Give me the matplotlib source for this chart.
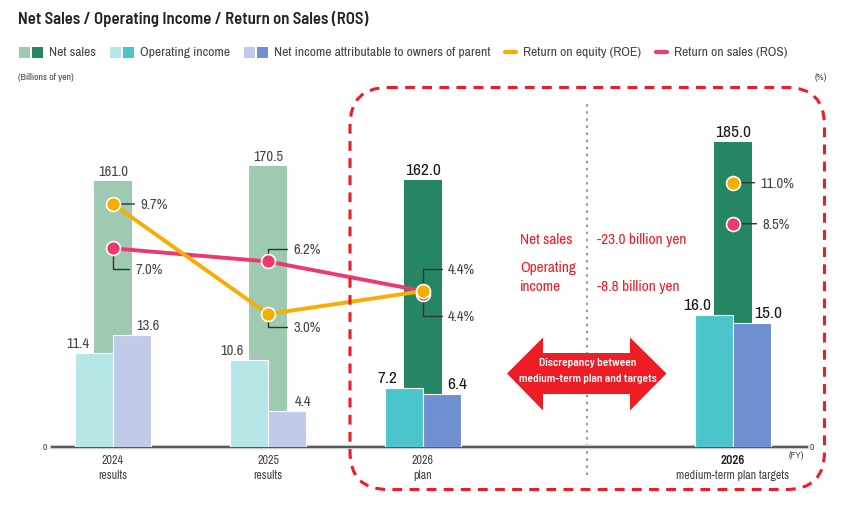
import matplotlib
matplotlib.use("Agg")
import matplotlib.pyplot as plt
import numpy as np
from matplotlib.patches import FancyBboxPatch, Polygon, Rectangle
from matplotlib.transforms import offset_copy

# ---- data -------------------------------------------------------------
years = ["2024", "2025", "2026", "2026"]
subs = ["results", "results", "plan", "medium-term plan targets"]
net_sales = [161.0, 170.5, 162.0, 185.0]
op_income = [11.4, 10.6, 7.2, 16.0]
net_income = [13.6, 4.4, 6.4, 15.0]
roe = [9.7, 3.0, 4.4]          # 2024, 2025 results + 2026 plan
ros = [7.0, 6.2, 4.4]
roe_target = 11.0
ros_target = 8.5
gap_sales = "-23.0 billion yen"
gap_income = "-8.8 billion yen"

# ---- colours ----------------------------------------------------------
NS_LIGHT, NS_DARK = "#9dcab0", "#258663"
OI_LIGHT, OI_DARK = "#b6e6e6", "#4cc4cc"
NI_LIGHT, NI_DARK = "#c0cbea", "#6f8fd0"
ROE_C, ROS_C = "#f7ae00", "#ec3a6e"
RED = "#ee1c25"
TXT = "#444444"

plt.rcParams["font.family"] = ["Archivo Narrow", "Roboto", "DejaVu Sans"]
BOLD_FAM = ["Barlow Semi Condensed", "Roboto", "DejaVu Sans"]

W, H = 850, 510
fig = plt.figure(figsize=(W / 100, H / 100), dpi=100)

# plot area in pixels: x 52..807, y 100..448
L, R, T, B = 52, 807, 100, 448
rect = [L / W, (H - B) / H, (R - L) / W, (B - T) / H]
ax_ns = fig.add_axes(rect)
ax_inc = ax_ns.twinx()
ax_pct = ax_ns.twinx()
ax_inc.set_zorder(ax_ns.get_zorder() + 1)
ax_pct.set_zorder(ax_ns.get_zorder() + 2)

x = np.array([0, 1, 2, 4])
span = B - T
ax_ns.set_xlim(-(113 - L) / 155, (R - 113) / 155)
ax_ns.set_ylim(0, span / 1.65)
ax_inc.set_ylim(0, span / 8.25)
ax_pct.set_ylim(-(B - 364.3) / 16.42, (364.3 - T) / 16.42)

for a in (ax_ns, ax_inc, ax_pct):
    a.patch.set_visible(False)
    for s in a.spines.values():
        s.set_visible(False)
    a.set_xticks([])
    a.set_yticks([])

bw = 0.24
ns_cols = [NS_LIGHT, NS_LIGHT, NS_DARK, NS_DARK]
oi_cols = [OI_LIGHT, OI_LIGHT, OI_DARK, OI_DARK]
ni_cols = [NI_LIGHT, NI_LIGHT, NI_DARK, NI_DARK]
ax_ns.bar(x, net_sales, width=bw, color=ns_cols)
ax_inc.bar(x - 0.123, op_income, width=bw, color=oi_cols, edgecolor="white", linewidth=0.8)
ax_inc.bar(x + 0.123, net_income, width=bw, color=ni_cols, edgecolor="white", linewidth=0.8)

# value labels
big = [False, False, True, True]
for i in range(4):
    fs = 12.5 if big[i] else 10.5
    c = "#1a1a1a" if big[i] else TXT
    ax_ns.annotate(f"{net_sales[i]:.1f}", (x[i], net_sales[i]), xytext=(0, 3),
                   textcoords="offset pixels", ha="center", va="bottom", fontsize=fs, color=c)
    ax_inc.annotate(f"{op_income[i]:.1f}", (x[i] - 0.123 - bw / 2, op_income[i]), xytext=(2, 3),
                    textcoords="offset pixels", ha="center", va="bottom", fontsize=fs, color=c)
    ax_inc.annotate(f"{net_income[i]:.1f}", (x[i] + 0.123 + bw / 2, net_income[i]), xytext=(-3, 3),
                    textcoords="offset pixels", ha="center", va="bottom", fontsize=fs, color=c)

# ROE / ROS lines
ax_pct.plot(x[:3], ros, color=ROS_C, lw=2.8, zorder=3)
ax_pct.plot(x[:3], roe, color=ROE_C, lw=2.8, zorder=3)
mk = dict(marker="o", ms=10, mec="white", mew=1.2, ls="none", zorder=6)
ax_pct.plot(x[:2], ros[:2], mfc=ROS_C, **mk)
# the plan ROS dot peeks out just below the ROE dot
ax_pct.plot(x[2:3], ros[2:3], mfc=ROS_C,
            transform=offset_copy(ax_pct.transData, fig=fig, y=-3, units="dots"), **mk)
ax_pct.plot(x[:3], roe, mfc=ROE_C, **mk)
ax_pct.plot([x[3]], [roe_target], mfc=ROE_C, **mk)
ax_pct.plot([x[3]], [ros_target], mfc=ROS_C, **mk)


def pct_label(xv, yv, dx, dy):
    lead = dict(arrowstyle="-", color="#333333", lw=1, shrinkA=2, shrinkB=0,
                relpos=(0, 0.5))
    if dy:
        lead["connectionstyle"] = "angle,angleA=0,angleB=90,rad=0"
    ax_pct.annotate(f"{yv:.1f}%", (xv, yv), xytext=(dx, dy), textcoords="offset pixels",
                    ha="left", va="center", fontsize=10.5, color=TXT, arrowprops=lead, zorder=4)


pct_label(x[0], roe[0], 27, 0)
pct_label(x[0], ros[0], 22, -21)
pct_label(x[1], ros[1], 25, 12)
pct_label(x[1], roe[1], 25, -13)
pct_label(x[2], roe[2], 25, 22)
pct_label(x[2], ros[2], 25, -25)
pct_label(x[3], roe_target, 27, 0)
pct_label(x[3], ros_target, 29, 0)

# baseline, axis labels
ax_ns.axhline(0, color="#cccccc", lw=3.2, zorder=4, clip_on=False)
ax_ns.axhline(0, color="#555555", lw=1.4, zorder=5, clip_on=False)
ax_ns.axvline(3.055, ymin=-0.08, ymax=(B - 103) / span, color="#999999", lw=1.5,
              ls=(0, (1.2, 2.2)), clip_on=False, zorder=0)
xt = ax_ns.get_xaxis_transform()
for i in range(4):
    last = i == 3
    ax_ns.annotate(years[i], (x[i], 0), xycoords=xt, xytext=(0, -13), textcoords="offset pixels",
                   ha="center", va="center", fontsize=9 if last else 8.6,
                   color="#222222" if last else TXT,
                   family=BOLD_FAM if last else None, fontweight="semibold" if last else "normal")
    ax_ns.annotate(subs[i], (x[i], 0), xycoords=xt, xytext=(0, -28), textcoords="offset pixels",
                   ha="center", va="center", fontsize=8.6, color=TXT)

# ---- overlay for decorations -----------------------------------------
ov = fig.add_axes([0, 0, 1, 1], zorder=10)
ov.set_xlim(0, W)
ov.set_ylim(H, 0)
ov.axis("off")

ov.text(18, 19, "Net Sales / Operating Income / Return on Sales (ROS)", fontsize=12,
        family=BOLD_FAM, fontweight="semibold", color="#222222", va="center", ha="left")

# legend, laid out left to right by measured text widths
renderer = fig.canvas.get_renderer()
leg_y = 53
leg_items = [("pair", (NS_LIGHT, NS_DARK), "Net sales"),
             ("pair", (OI_LIGHT, OI_DARK), "Operating income"),
             ("pair", (NI_LIGHT, NI_DARK), "Net income attributable to owners of parent"),
             ("line", ROE_C, "Return on equity (ROE)"),
             ("line", ROS_C, "Return on sales (ROS)")]
cx = 19
for kind, col, label in leg_items:
    if kind == "pair":
        ov.add_patch(Rectangle((cx, leg_y - 5.5), 11, 11, color=col[0], lw=0))
        ov.add_patch(Rectangle((cx + 13, leg_y - 5.5), 11, 11, color=col[1], lw=0))
        cx += 30
    else:
        ov.plot([cx + 1, cx + 12], [leg_y, leg_y], color=col, lw=3, solid_capstyle="round")
        cx += 19
    t = ov.text(cx, leg_y, label, fontsize=9.8, color=TXT, va="center")
    cx += t.get_window_extent(renderer).width + 14

ov.text(18, 77, "(Billions of yen)", fontsize=7, color=TXT, va="center")
ov.text(821, 77, "(%)", fontsize=7, color=TXT, va="center", ha="center")
ov.text(47, 448, "0", fontsize=7, color=TXT, va="center", ha="right")
ov.text(810, 448, "0", fontsize=7, color=TXT, va="center", ha="left")
ov.text(796, 456, "(FY)", fontsize=7, color=TXT, va="center", ha="center")

# dashed red box
ov.add_patch(FancyBboxPatch((350, 88.5), 474.5, 402, boxstyle="round,pad=0,rounding_size=38",
                            fill=False, ec=RED, lw=2.2, ls=(0, (3.2, 2.4))))

# red notes
ov.text(520, 240, "Net sales", fontsize=11, color=RED, va="center")
ov.text(597, 240, gap_sales, fontsize=11, color=RED, va="center")
ov.text(520, 268, "Operating", fontsize=11, color=RED, va="center")
ov.text(520, 287, "income", fontsize=11, color=RED, va="center")
ov.text(597, 287, gap_income, fontsize=11, color=RED, va="center")

# double arrow
arrow = [(507, 374.5), (543, 338.5), (543, 354), (630, 354), (630, 338.5), (666.5, 374.5),
         (630, 411.5), (630, 395), (543, 395), (543, 411.5)]
ov.add_patch(Polygon(arrow, closed=True, color=RED, lw=0))
for ty, line in ((363, "Discrepancy between"), (379, "medium-term plan and targets")):
    ov.text(588, ty, line, fontsize=8.2, color="white", ha="center", va="center",
            family=BOLD_FAM, fontweight="semibold")

fig.savefig("out.png", dpi=100)
